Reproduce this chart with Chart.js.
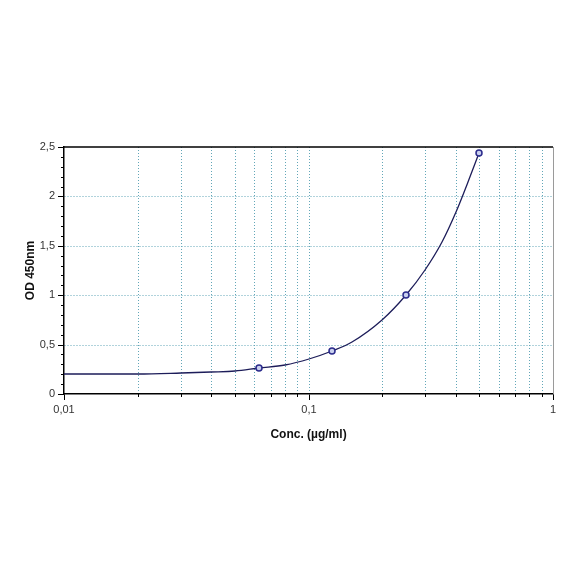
<!DOCTYPE html>
<html>
<head>
<meta charset="utf-8">
<script src="https://cdn.jsdelivr.net/npm/chart.js@4/dist/chart.umd.min.js"></script>
<style>
  html, body { margin: 0; padding: 0; background: #fff; }
  #wrap { width: 584px; height: 584px; }
</style>
</head>
<body>
<div id="wrap"><canvas id="stdCurve" width="584" height="584"></canvas></div>
<script>
// standards (measured points)
const standardConc = [0.0625, 0.125, 0.25, 0.5];
const standardOD = [0.26, 0.435, 1.0, 2.44];

// fitted curve
const curveConc = [0.01, 0.02, 0.03, 0.04, 0.05, 0.0625, 0.08, 0.1, 0.125, 0.15, 0.2, 0.25, 0.3, 0.35, 0.4, 0.45, 0.5];
const curveOD = [0.198, 0.205, 0.213, 0.223, 0.237, 0.26, 0.298, 0.35, 0.435, 0.53, 0.75, 1.0, 1.255, 1.54, 1.845, 2.15, 2.44];

// axis ticks
const xTickValues = [0.01, 0.02, 0.03, 0.04, 0.05, 0.06, 0.07, 0.08, 0.09, 0.1, 0.2, 0.3, 0.4, 0.5, 0.6, 0.7, 0.8, 0.9, 1];
const xTickLabels = ["0,01", "0,1", "1"];
const yTickLabels = ["0", "0,5", "1", "1,5", "2", "2,5"];

const GRID = "#62a6b8";
const FONT = "'Liberation Sans', Arial, sans-serif";

function isXMajor(v) {
  return v === 0.01 || v === 0.1 || v === 1;
}
function isYMajor(v) {
  return Math.abs(v * 2 - Math.round(v * 2)) < 1e-6;
}

// short minor ticks + top/right frame
const framePlugin = {
  id: "frame",
  afterDraw(chart) {
    const { ctx, chartArea: a, scales } = chart;
    ctx.save();
    ctx.strokeStyle = "#000";
    ctx.lineWidth = 1;
    ctx.beginPath();
    scales.x.ticks.forEach(t => {
      if (isXMajor(t.value)) return;
      const px = Math.round(scales.x.getPixelForValue(t.value)) + 0.5;
      ctx.moveTo(px, a.bottom);
      ctx.lineTo(px, a.bottom + 3);
    });
    scales.y.ticks.forEach(t => {
      if (isYMajor(t.value)) return;
      const py = Math.round(scales.y.getPixelForValue(t.value)) + 0.5;
      ctx.moveTo(a.left - 3, py);
      ctx.lineTo(a.left, py);
    });
    ctx.stroke();

    ctx.lineWidth = 1.5;
    ctx.beginPath();
    ctx.moveTo(a.left, a.top);
    ctx.lineTo(a.right, a.top);
    ctx.stroke();
    ctx.strokeStyle = "#9a9a9a";
    ctx.lineWidth = 1;
    ctx.beginPath();
    ctx.moveTo(a.right + 0.5, a.top);
    ctx.lineTo(a.right + 0.5, a.bottom);
    ctx.stroke();
    ctx.restore();
  }
};

const ctx = document.getElementById("stdCurve").getContext("2d");
new Chart(ctx, {
  type: "scatter",
  data: {
    datasets: [
      {
        label: "Standards",
        data: standardConc.map((c, i) => ({ x: c, y: standardOD[i] })),
        showLine: false,
        pointRadius: 3,
        pointBorderWidth: 1.5,
        pointBorderColor: "#2b2b8c",
        pointBackgroundColor: "#c9d0ee",
        order: 0
      },
      {
        label: "Fit",
        data: curveConc.map((c, i) => ({ x: c, y: curveOD[i] })),
        showLine: true,
        borderColor: "#1d1d5a",
        borderWidth: 1.3,
        pointRadius: 0,
        cubicInterpolationMode: "monotone",
        order: 1
      }
    ]
  },
  options: {
    responsive: false,
    animation: false,
    layout: { padding: { left: 0, top: 147, right: 31, bottom: 142 } },
    plugins: {
      legend: { display: false },
      tooltip: { enabled: false }
    },
    scales: {
      x: {
        type: "logarithmic",
        min: 0.01,
        max: 1,
        alignToPixels: true,
        afterBuildTicks: s => { s.ticks = xTickValues.map(v => ({ value: v })); },
        afterFit: s => { s.height = 48; },
        ticks: {
          autoSkip: false,
          maxRotation: 0,
          padding: 3,
          color: "#333",
          font: { family: FONT, size: 11 },
          callback: (v) => {
            const i = [0.01, 0.1, 1].indexOf(v);
            return i >= 0 ? xTickLabels[i] : "";
          }
        },
        grid: {
          color: c => c.tick && c.tick.value > 0.01 && c.tick.value < 1 ? GRID : "rgba(0,0,0,0)",
          lineWidth: 1,
          drawTicks: true,
          tickLength: 6,
          tickColor: c => c.tick && isXMajor(c.tick.value) ? "#000" : "rgba(0,0,0,0)",
          tickBorderDash: [],
          tickWidth: 1
        },
        border: { display: true, color: "#000", width: 1.5, dash: [1, 2] },
        title: {
          display: true,
          text: "Conc. (µg/ml)",
          color: "#111",
          font: { family: FONT, size: 12, weight: "bold" },
          padding: { top: 0, bottom: 0 }
        }
      },
      y: {
        min: 0,
        max: 2.5,
        alignToPixels: true,
        afterFit: s => { s.width = 64; },
        ticks: {
          stepSize: 0.1,
          autoSkip: false,
          padding: 3,
          color: "#333",
          font: { family: FONT, size: 11 },
          callback: (v) => isYMajor(v) ? yTickLabels[Math.round(v * 2)] : ""
        },
        grid: {
          color: c => c.tick && isYMajor(c.tick.value) && c.tick.value > 0 && c.tick.value < 2.5 ? GRID : "rgba(0,0,0,0)",
          lineWidth: 1,
          drawTicks: true,
          tickLength: 6,
          tickColor: c => c.tick && isYMajor(c.tick.value) ? "#000" : "rgba(0,0,0,0)",
          tickBorderDash: [],
          tickWidth: 1
        },
        border: { display: true, color: "#000", width: 1.5, dash: [1, 2] },
        title: {
          display: true,
          text: "OD 450nm",
          color: "#111",
          font: { family: FONT, size: 12, weight: "bold" },
          padding: { top: 23, bottom: 0 }
        }
      }
    }
  },
  plugins: [framePlugin]
});
</script>
</body>
</html>
